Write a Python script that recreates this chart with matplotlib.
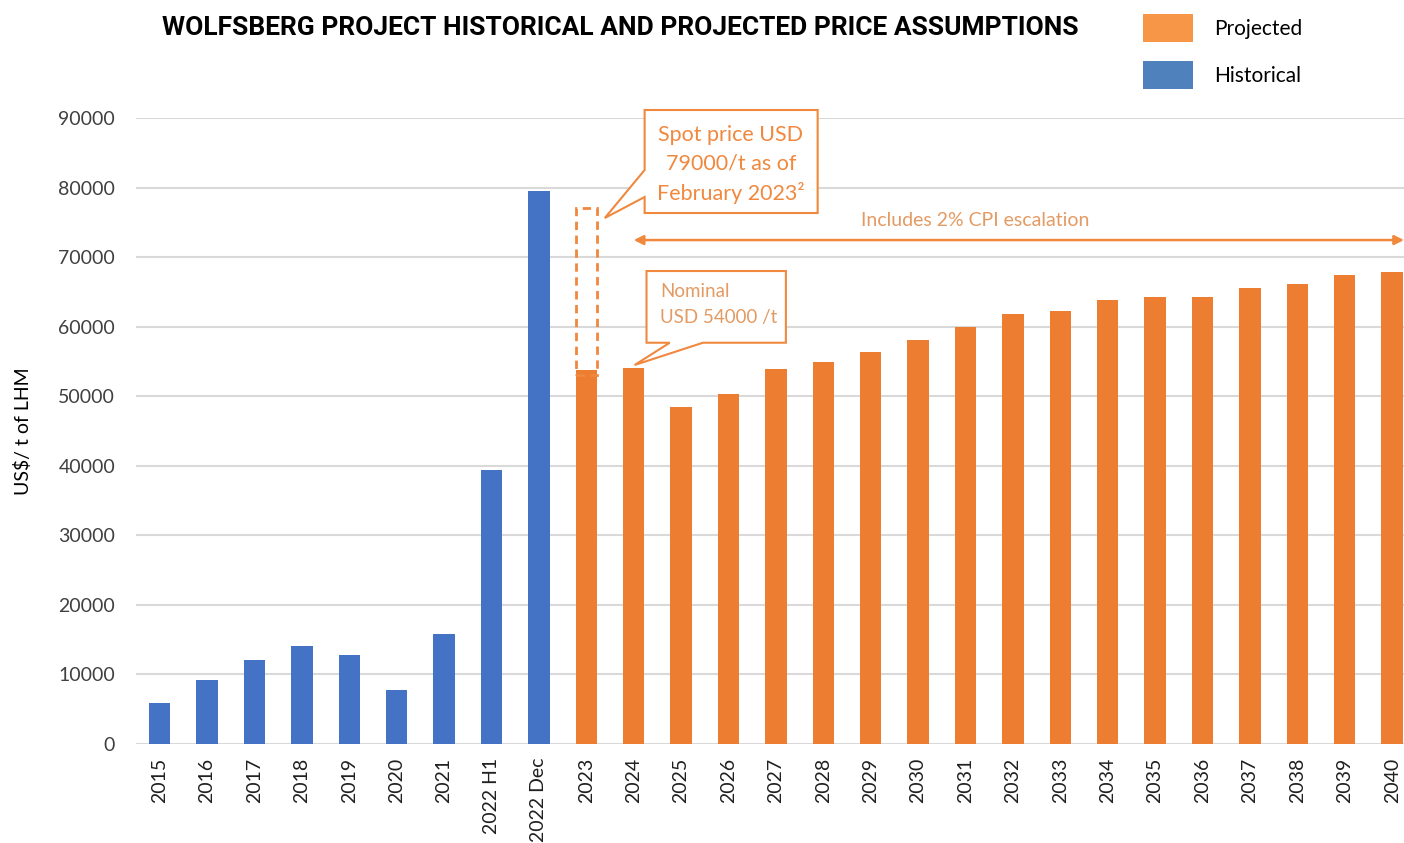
import numpy as np
import matplotlib
matplotlib.use("Agg")
import matplotlib.pyplot as plt
from matplotlib.patches import Polygon, Rectangle, Patch

# ---------- 数据 ----------
hist_labels = ["2015", "2016", "2017", "2018", "2019", "2020", "2021", "2022 H1", "2022 Dec"]
hist_values = [5900, 9200, 12100, 14100, 12800, 7800, 15800, 39400, 79500]

proj_labels = [str(y) for y in range(2023, 2041)]
proj_values = [53800, 54000, 48500, 50300, 53900, 54900, 56400, 58100, 60000,
               61800, 62300, 63800, 64300, 64300, 65600, 66100, 67400, 67900]

spot_price = 77000          # 虚线框顶端（图中位置）
y_ticks = list(range(0, 90001, 10000))

C_HIST = "#4472C4"
C_PROJ = "#ED7D31"
C_NOTE = "#F0883E"
C_NOTE2 = "#E39A63"

plt.rcParams['font.family'] = ['Lato', 'DejaVu Sans']

fig = plt.figure(figsize=(14.04, 8.43), dpi=100)
ax = fig.add_axes([136 / 1404, 1 - 744 / 843, (1404 - 136) / 1404, (744 - 118) / 843])

labels = hist_labels + proj_labels
x = np.arange(len(labels))
nh = len(hist_labels)
w = 0.45
ax.bar(x[:nh], hist_values, width=w, color=C_HIST, zorder=3)
ax.bar(x[nh:], proj_values, width=w, color=C_PROJ, zorder=3)

ax.set_xlim(-0.5, len(labels) - 0.75)
ax.set_ylim(0, 90000)
ax.set_yticks(y_ticks)
ax.set_yticklabels([str(v) for v in y_ticks], fontsize=14, color="#404040")
ax.set_xticks(x)
ax.set_xticklabels(labels, rotation=90, fontsize=14, color="#202020")
ax.tick_params(length=0, pad=10)
ax.tick_params(axis='y', pad=15)
ax.grid(axis='y', color="#D9D9D9", linewidth=1.5, zorder=0)
for s in ax.spines.values():
    s.set_visible(False)
ax.set_ylabel("US$/ t of LHM", fontsize=14)
ax.yaxis.set_label_coords(-0.082, 0.5)

# ---------- 现货价虚线框 ----------
i23 = nh
ax.add_patch(Rectangle((i23 - w / 2, proj_values[0] - 800), w, spot_price - proj_values[0] + 800,
                       fill=False, edgecolor=C_NOTE, linestyle=(0, (3, 2)), linewidth=2, zorder=4))

# ---------- 标注框（带尾巴） ----------
spot_box = [(10.23, 91150), (13.88, 91150), (13.88, 76340), (10.23, 76340),
            (10.23, 78640), (9.39, 75620), (10.23, 82520)]
ax.add_patch(Polygon(spot_box, closed=True, facecolor="white", edgecolor=C_NOTE,
                     linewidth=1.5, zorder=5, clip_on=False))
ax.text(12.05, 83250, "Spot price USD\n79000/t as of\nFebruary 2023²", ha="center", va="center",
        fontsize=15.5, color=C_NOTE, linespacing=1.5, zorder=6)

nom_box = [(10.27, 68000), (13.21, 68000), (13.21, 57690), (11.46, 57690),
           (10.02, 54490), (10.76, 57690), (10.27, 57690)]
ax.add_patch(Polygon(nom_box, closed=True, facecolor="white", edgecolor=C_NOTE,
                     linewidth=1.5, zorder=5))
ax.text(10.55, 63200, "Nominal\nUSD 54000 /t", ha="left", va="center",
        fontsize=13.5, color=C_NOTE2, linespacing=1.7, zorder=6)

# ---------- CPI 箭头 ----------
ax.annotate("", xy=(10.0, 72450), xytext=(len(labels) - 0.75, 72450),
            arrowprops=dict(arrowstyle="<|-|>", color=C_NOTE, lw=1.8,
                            mutation_scale=14, shrinkA=0, shrinkB=0),
            annotation_clip=False, zorder=6)
ax.text(17.2, 75300, "Includes 2% CPI escalation", ha="center", va="center",
        fontsize=14, color=C_NOTE2)

# ---------- 标题与图例 ----------
fig.text(620 / 1404, 1 - 28 / 843, "WOLFSBERG PROJECT HISTORICAL AND PROJECTED PRICE ASSUMPTIONS",
         ha="center", va="center", fontsize=19, fontweight="bold", family="Roboto")

handles = [Patch(facecolor="#F79646", edgecolor="none"), Patch(facecolor="#4F81BD", edgecolor="none")]
fig.legend(handles, ["Projected", "Historical"], loc="upper left",
           bbox_to_anchor=(1143 / 1404, 1 - 14 / 843), frameon=False, fontsize=15,
           handlelength=2.4, handleheight=1.7, labelspacing=0.9, handletextpad=1.0,
           borderpad=0, borderaxespad=0)

fig.savefig("out.png", dpi=100)
